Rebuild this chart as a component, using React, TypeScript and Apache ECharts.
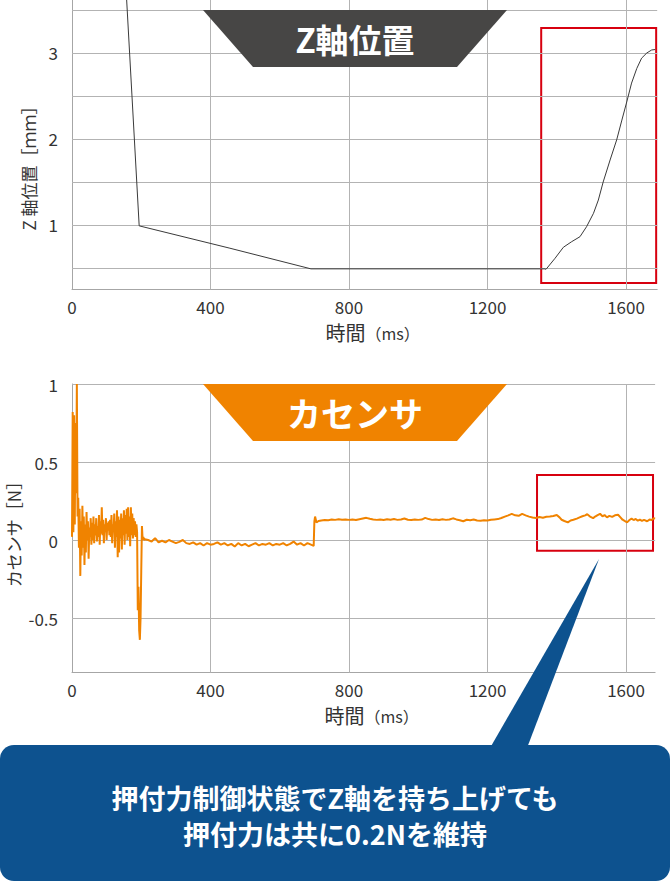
import React, { useEffect, useRef } from "react";
import * as echarts from "echarts";

// ---- Z axis position (mm) vs time (ms)
const zTime = [156, 194, 456, 690, 1366, 1369, 1395, 1419, 1443, 1467, 1486, 1506, 1520, 1534, 1554, 1573, 1588, 1602, 1616, 1631, 1645, 1660, 1674, 1684];
const zValue = [3.75, 0.99, 0.73, 0.49, 0.49, 0.485, 0.613, 0.741, 0.806, 0.864, 0.98, 1.136, 1.29, 1.5, 1.756, 1.99, 2.22, 2.43, 2.65, 2.82, 2.94, 3.0, 3.035, 3.04];

// ---- force sensor (N) vs time (ms)
const forceTime = [
  0, 2, 4, 6, 8, 10, 12, 14, 16, 18, 20, 22, 24, 26, 28, 30, 32, 34, 36, 38, 40, 42, 44, 46, 48, 50,
  52, 54, 56, 58, 60, 62, 64, 66, 68, 70, 72, 74, 76, 78, 80, 82, 84, 86, 88, 90, 92, 94, 96, 98, 100,
  102, 104, 106, 108, 110, 112, 114, 116, 118, 120, 122, 124, 126, 128, 130, 132, 134, 136, 138, 140,
  142, 144, 146, 148, 150, 152, 154, 156, 158, 160, 162, 164, 166, 168, 170, 172, 174, 176, 178, 180,
  182, 184, 186, 188, 190, 192, 194, 196, 198, 200, 202, 204, 206, 208,
  210, 220, 230, 240, 250, 260, 270, 280, 290, 300, 310, 320, 330, 340, 350, 360, 370, 380, 390, 400,
  410, 420, 430, 440, 450, 460, 470, 480, 490, 500, 510, 520, 530, 540, 550, 560, 570, 580, 590, 600,
  610, 620, 630, 640, 650, 660, 670, 680, 690, 698,
  700, 702, 706, 712,
  720, 730, 740, 750, 760, 770, 780, 790, 800, 810, 820, 830, 840, 850, 860, 870, 880, 890, 900, 910,
  920, 930, 940, 950, 960, 970, 980, 990, 1000, 1010, 1020, 1030, 1040, 1050, 1060, 1070, 1080, 1090,
  1100, 1110, 1120, 1130, 1140, 1150, 1160, 1170, 1180, 1190, 1200, 1210, 1220, 1230, 1240, 1250, 1260,
  1270, 1280, 1290, 1300, 1310, 1320, 1330, 1340, 1350, 1360, 1370, 1380, 1390, 1400, 1408, 1414, 1422,
  1432, 1440, 1448, 1458, 1466, 1474, 1482, 1488, 1496, 1505, 1512, 1518, 1525, 1532, 1538, 1545, 1552,
  1560, 1568, 1577, 1584, 1590, 1596, 1603, 1610, 1616, 1622, 1628, 1634, 1640, 1646, 1652, 1661, 1668,
  1674, 1680, 1684,
];
const forceValue = [
  0.02, 0.82, 0.05, 0.8, 0.1, 0.75, 0.3, 1.0, 0.15, 0.27, -0.05, 0.2, -0.23, 0.12, -0.1, 0.22, -0.05, 0.15, -0.16, 0.1, -0.08, 0.18, 0.0, 0.12, -0.12, 0.08,
  0.02, 0.14, -0.03, 0.11, 0.0, 0.15, -0.02, 0.1, 0.03, 0.14, -0.01, 0.09, 0.02, 0.16, -0.03, 0.12, 0.04, 0.21, 0.03, 0.13, -0.02, 0.1, 0.05, 0.14, 0.0,
  0.11, 0.06, 0.12, 0.03, 0.13, 0.02, 0.16, -0.02, 0.1, 0.05, 0.17, -0.05, 0.12, 0.02, 0.19, -0.11, 0.15, -0.08, 0.13, 0.01,
  0.17, -0.06, 0.14, 0.03, 0.19, -0.03, 0.16, 0.04, 0.2, 0.0, 0.21, 0.02, 0.15, -0.04, 0.21, 0.03, 0.17, 0.01, 0.14, 0.03,
  0.12, 0.02, 0.1, 0.05, -0.45, -0.3, -0.58, -0.64, -0.5, -0.2, 0.09, 0.0, 0.02, 0.0,
  0.005, 0.0, -0.01, 0.012, -0.015, -0.005, -0.015, 0.0, -0.01, -0.02, -0.012, 0.0, -0.02, -0.025, -0.015, -0.03, -0.02, -0.035, -0.02, -0.03,
  -0.025, -0.015, -0.03, -0.02, -0.035, -0.025, -0.042, -0.02, -0.035, -0.025, -0.04, -0.03, -0.02, -0.035, -0.025, -0.03, -0.02, -0.035, -0.025, -0.03,
  -0.02, -0.035, -0.025, -0.01, -0.03, -0.02, -0.035, -0.02, -0.03, -0.038,
  0.12, 0.15, 0.112, 0.122,
  0.125, 0.128, 0.127, 0.131, 0.129, 0.133, 0.13, 0.132, 0.129, 0.131, 0.128, 0.133, 0.138, 0.142, 0.136, 0.132, 0.129, 0.131, 0.128, 0.133,
  0.13, 0.134, 0.129, 0.131, 0.138, 0.13, 0.128, 0.132, 0.129, 0.131, 0.142, 0.134, 0.129, 0.131, 0.128, 0.133, 0.129, 0.131,
  0.139, 0.132, 0.127, 0.12, 0.13, 0.127, 0.131, 0.125, 0.123, 0.127, 0.125, 0.13, 0.132, 0.134, 0.141, 0.15, 0.158,
  0.167, 0.158, 0.155, 0.167, 0.158, 0.15, 0.144, 0.141, 0.147, 0.143, 0.149, 0.15, 0.154, 0.16, 0.145, 0.13, 0.122,
  0.113, 0.125, 0.13, 0.137, 0.145, 0.152, 0.158, 0.165, 0.15, 0.14, 0.152, 0.16, 0.168, 0.152, 0.16, 0.145, 0.155,
  0.148, 0.158, 0.162, 0.145, 0.13, 0.122, 0.113, 0.128, 0.137, 0.128, 0.135, 0.124, 0.13, 0.122, 0.129, 0.12, 0.131,
  0.128, 0.14, 0.137,
];

// ---- axes / grid
const xTickLabels = [0, 400, 800, 1200, 1600];
const zGridLines = [0.5, 1, 1.5, 2, 2.5, 3, 3.5];
const fGridLines = [-0.5, 0, 0.5, 1];
const zBox = { x: [1355, 1687], y: [0.326, 3.29] };
const fBox = { x: [1343, 1678], y: [-0.069, 0.417] };

const FONT = '"Noto Sans CJK JP", "Noto Sans", sans-serif';
const GRID_COLOR = "#b3b3b3";
const TEXT_COLOR = "#333333";

function gridLineSeries(xi: number, hLines: number[]) {
  return {
    type: "line",
    xAxisIndex: xi,
    yAxisIndex: xi,
    data: [],
    z: 1,
    silent: true,
    markLine: {
      silent: true,
      symbol: ["none", "none"],
      label: { show: false },
      lineStyle: { color: GRID_COLOR, width: 1, type: "solid" },
      emphasis: { disabled: true },
      data: [
        ...hLines.map((v) => ({ yAxis: v })),
        ...xTickLabels.filter((v) => v > 0).map((v) => ({ xAxis: v })),
      ],
    },
  };
}

function boxSeries(xi: number, box: { x: number[]; y: number[] }) {
  return {
    type: "line",
    xAxisIndex: xi,
    yAxisIndex: xi,
    data: [],
    z: 10,
    silent: true,
    markArea: {
      silent: true,
      itemStyle: { color: "rgba(0,0,0,0)", borderColor: "#d7000f", borderWidth: 2 },
      label: { show: false },
      data: [[{ xAxis: box.x[0], yAxis: box.y[1] }, { xAxis: box.x[1], yAxis: box.y[0] }]],
    },
  };
}

function xAxisOpt(gi: number, max: number) {
  return {
    type: "value",
    gridIndex: gi,
    min: 0,
    max,
    interval: 400,
    axisLine: { show: true, onZero: false, lineStyle: { color: "#a6a6a6", width: 1 } },
    axisTick: { show: false },
    splitLine: { show: false },
    axisLabel: {
      color: TEXT_COLOR,
      fontSize: 17,
      fontFamily: FONT,
      margin: 8,
      formatter: (v: number) => (xTickLabels.indexOf(Math.round(v)) >= 0 && Math.abs(v - Math.round(v)) < 1e-6 ? String(Math.round(v)) : ""),
    },
    name: "{a|時間}{b|（ms）}",
    nameLocation: "middle",
    nameGap: 33,
    nameTextStyle: {
      padding: [0, 0, 0, 16],
      rich: {
        a: { fontSize: 20, color: TEXT_COLOR, fontFamily: FONT },
        b: { fontSize: 16, color: TEXT_COLOR, fontFamily: FONT },
      },
    },
  };
}

export default function App() {
  const ref = useRef<HTMLDivElement>(null);
  useEffect(() => {
    if (!ref.current) return;
    const chart = echarts.init(ref.current, undefined, { renderer: "svg" });
    const zData = zTime.map((t, i) => [t, zValue[i]]);
    const fData = forceTime.map((t, i) => [t, forceValue[i]]);
    const option = {
      animation: false,
      grid: [
        { left: 72, top: 0, width: 585.2, height: 289.5, containLabel: false },
        { left: 72, top: 384, width: 583.1, height: 288.6, containLabel: false },
      ],
      xAxis: [xAxisOpt(0, 1690), xAxisOpt(1, 1684)],
      yAxis: [
        {
          type: "value",
          gridIndex: 0,
          min: 0.25,
          max: 3.616,
          interval: 0.25,
          axisLine: { show: true, onZero: false, lineStyle: { color: "#a6a6a6", width: 1 } },
          axisTick: { show: false },
          splitLine: { show: false },
          axisLabel: {
            color: TEXT_COLOR,
            fontSize: 17,
            fontFamily: FONT,
            margin: 14,
            formatter: (v: number) => (Math.abs(v - Math.round(v)) < 1e-6 ? String(Math.round(v)) : ""),
          },
        },
        {
          type: "value",
          gridIndex: 1,
          min: -0.85,
          max: 1,
          interval: 0.05,
          axisLine: { show: true, onZero: false, lineStyle: { color: "#a6a6a6", width: 1 } },
          axisTick: { show: false },
          splitLine: { show: false },
          axisLabel: {
            color: TEXT_COLOR,
            fontSize: 17,
            fontFamily: FONT,
            margin: 14,
            formatter: (v: number) => {
              const d = v * 2;
              if (Math.abs(d - Math.round(d)) > 1e-6) return "";
              const r = Math.round(d) / 2;
              return String(r);
            },
          },
        },
      ],
      series: [
        gridLineSeries(0, zGridLines),
        gridLineSeries(1, fGridLines),
        {
          type: "line",
          xAxisIndex: 0,
          yAxisIndex: 0,
          data: zData,
          showSymbol: false,
          symbol: "none",
          z: 5,
          lineStyle: { color: "#3a3a3a", width: 1 },
          silent: true,
        },
        {
          type: "line",
          xAxisIndex: 1,
          yAxisIndex: 1,
          data: fData,
          showSymbol: false,
          symbol: "none",
          z: 5,
          lineStyle: { color: "#f08300", width: 2 },
          silent: true,
        },
        boxSeries(0, zBox),
        boxSeries(1, fBox),
      ],
      graphic: [
        {
          type: "polygon",
          z: 100,
          shape: { points: [[203, 10], [507, 10], [457, 67], [253, 67]] },
          style: { fill: "#474645" },
        },
        {
          type: "text",
          z: 101,
          x: 355,
          y: 39,
          style: { text: "Z軸位置", fill: "#ffffff", fontSize: 33, fontWeight: "bold", fontFamily: FONT, align: "center", verticalAlign: "middle" },
        },
        {
          type: "polygon",
          z: 100,
          shape: { points: [[203, 384], [507, 384], [457, 441], [253, 441]] },
          style: { fill: "#f08300" },
        },
        {
          type: "text",
          z: 101,
          x: 355,
          y: 412,
          style: { text: "カセンサ", fill: "#ffffff", fontSize: 34, fontWeight: "bold", fontFamily: FONT, align: "center", verticalAlign: "middle" },
        },
        {
          type: "text",
          z: 100,
          x: 28,
          y: 164,
          rotation: Math.PI / 2,
          style: { text: "Z 軸位置［ｍｍ］", fill: TEXT_COLOR, fontSize: 17, fontFamily: FONT, align: "center", verticalAlign: "middle" },
        },
        {
          type: "text",
          z: 100,
          x: 13,
          y: 530,
          rotation: Math.PI / 2,
          style: { text: "カセンサ［N］", fill: TEXT_COLOR, fontSize: 17, fontFamily: FONT, align: "center", verticalAlign: "middle" },
        },
        {
          type: "polygon",
          z: 100,
          shape: { points: [[599, 559], [490, 748], [527, 748]] },
          style: { fill: "#0d528f" },
        },
        {
          type: "rect",
          z: 100,
          shape: { x: 0, y: 745, width: 670, height: 136, r: 14 },
          style: { fill: "#0d528f" },
        },
        {
          type: "text",
          z: 101,
          x: 335,
          y: 797,
          style: { text: "押付力制御状態でZ軸を持ち上げても", fill: "#ffffff", fontSize: 27, fontWeight: "bold", fontFamily: FONT, align: "center", verticalAlign: "middle" },
        },
        {
          type: "text",
          z: 101,
          x: 335,
          y: 833,
          style: { text: "押付力は共に0.2Nを維持", fill: "#ffffff", fontSize: 27, fontWeight: "bold", fontFamily: FONT, align: "center", verticalAlign: "middle" },
        },
      ],
    };
    chart.setOption(option as any);
    return () => chart.dispose();
  }, []);
  return <div ref={ref} style={{ position: "absolute", left: 0, top: 0, width: 670, height: 882, background: "#ffffff" }} />;
}
